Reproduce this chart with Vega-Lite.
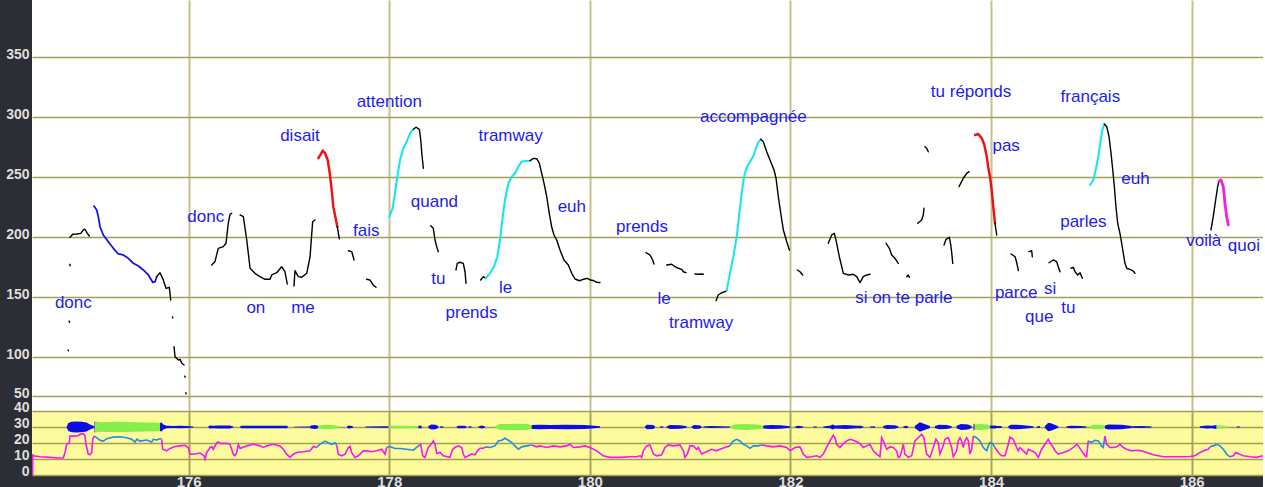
{
  "$schema": "https://vega.github.io/schema/vega-lite/v6.json",
  "description": "Prosodic pitch contour (Hz) with word labels, and intensity / waveform strip below.",
  "background": "#2b2e35",
  "padding": {"left": 0, "top": 0, "right": 0, "bottom": 0},
  "spacing": 0,
  "bounds": "flush",
  "config": {
    "view": {"stroke": null},
    "axis": {
      "labelFont": "Liberation Sans Narrow, Liberation Sans",
      "labelFontWeight": "bold",
      "labelFontSize": 14,
      "labelColor": "#dedede",
      "domain": false,
      "ticks": false,
      "title": null,
      "gridColor": "#a39f58",
      "gridWidth": 1.5,
      "gridOpacity": 1,
      "labelOverlap": false,
      "labelFlush": false
    }
  },
  "resolve": {"scale": {"color": "independent", "strokeWidth": "independent", "y": "independent"}},
  "datasets": {
    "pitch": [
      {"s": "A", "k": "neutral", "t": 174.817, "f": 200.0},
      {"s": "A", "k": "neutral", "t": 174.844, "f": 202.5},
      {"s": "A", "k": "neutral", "t": 174.884, "f": 202.8},
      {"s": "A", "k": "neutral", "t": 174.924, "f": 203.3},
      {"s": "A", "k": "neutral", "t": 174.950, "f": 206.1},
      {"s": "A", "k": "neutral", "t": 174.966, "f": 206.7},
      {"s": "A", "k": "neutral", "t": 174.989, "f": 203.3},
      {"s": "A", "k": "neutral", "t": 175.009, "f": 201.1},
      {"s": "d1", "k": "neutral", "t": 174.815, "f": 177.5},
      {"s": "d1", "k": "neutral", "t": 174.819, "f": 176.3},
      {"s": "d2", "k": "neutral", "t": 174.808, "f": 130.2},
      {"s": "d2", "k": "neutral", "t": 174.812, "f": 129.2},
      {"s": "d3", "k": "neutral", "t": 174.798, "f": 106.1},
      {"s": "d3", "k": "neutral", "t": 174.802, "f": 105.5},
      {"s": "d4", "k": "neutral", "t": 175.838, "f": 133.6},
      {"s": "d4", "k": "neutral", "t": 175.842, "f": 132.8},
      {"s": "d5", "k": "neutral", "t": 175.961, "f": 84.2},
      {"s": "d5", "k": "neutral", "t": 175.965, "f": 83.4},
      {"s": "d6", "k": "neutral", "t": 175.971, "f": 70.4},
      {"s": "d6", "k": "neutral", "t": 175.975, "f": 69.6},
      {"s": "B", "k": "descent", "t": 175.056, "f": 226.1},
      {"s": "B", "k": "descent", "t": 175.083, "f": 222.8},
      {"s": "B", "k": "descent", "t": 175.099, "f": 217.2},
      {"s": "B", "k": "descent", "t": 175.116, "f": 208.8},
      {"s": "B", "k": "descent", "t": 175.149, "f": 201.9},
      {"s": "B", "k": "descent", "t": 175.199, "f": 196.3},
      {"s": "B", "k": "descent", "t": 175.249, "f": 190.8},
      {"s": "B", "k": "descent", "t": 175.298, "f": 186.1},
      {"s": "B", "k": "descent", "t": 175.348, "f": 185.3},
      {"s": "B", "k": "descent", "t": 175.398, "f": 182.5},
      {"s": "B", "k": "descent", "t": 175.448, "f": 178.3},
      {"s": "B", "k": "descent", "t": 175.498, "f": 176.1},
      {"s": "B", "k": "descent", "t": 175.548, "f": 172.8},
      {"s": "B", "k": "descent", "t": 175.598, "f": 168.6},
      {"s": "B", "k": "descent", "t": 175.641, "f": 162.5},
      {"s": "B", "k": "descent", "t": 175.665, "f": 163.0},
      {"s": "B", "k": "descent", "t": 175.681, "f": 167.2},
      {"s": "C", "k": "neutral", "t": 175.681, "f": 167.2},
      {"s": "C", "k": "neutral", "t": 175.714, "f": 170.5},
      {"s": "C", "k": "neutral", "t": 175.741, "f": 165.8},
      {"s": "C", "k": "neutral", "t": 175.774, "f": 157.5},
      {"s": "C", "k": "neutral", "t": 175.807, "f": 158.3},
      {"s": "C", "k": "neutral", "t": 175.821, "f": 147.8},
      {"s": "D", "k": "neutral", "t": 175.854, "f": 108.8},
      {"s": "D", "k": "neutral", "t": 175.864, "f": 100.5},
      {"s": "D", "k": "neutral", "t": 175.897, "f": 97.75},
      {"s": "D", "k": "neutral", "t": 175.914, "f": 98.3},
      {"s": "D", "k": "neutral", "t": 175.931, "f": 95.0},
      {"s": "D", "k": "neutral", "t": 175.954, "f": 93.6},
      {"s": "E1", "k": "neutral", "t": 176.229, "f": 176.9},
      {"s": "E1", "k": "neutral", "t": 176.262, "f": 179.7},
      {"s": "E1", "k": "neutral", "t": 176.295, "f": 190.8},
      {"s": "E1", "k": "neutral", "t": 176.345, "f": 192.2},
      {"s": "E1", "k": "neutral", "t": 176.372, "f": 195.0},
      {"s": "E1", "k": "neutral", "t": 176.395, "f": 211.7},
      {"s": "E1", "k": "neutral", "t": 176.412, "f": 219.2},
      {"s": "E1", "k": "neutral", "t": 176.429, "f": 220.0},
      {"s": "E2", "k": "neutral", "t": 176.512, "f": 218.6},
      {"s": "E2", "k": "neutral", "t": 176.545, "f": 217.2},
      {"s": "E2", "k": "neutral", "t": 176.579, "f": 197.75},
      {"s": "E2", "k": "neutral", "t": 176.612, "f": 174.2},
      {"s": "E2", "k": "neutral", "t": 176.661, "f": 170.0},
      {"s": "E2", "k": "neutral", "t": 176.711, "f": 167.2},
      {"s": "E2", "k": "neutral", "t": 176.761, "f": 165.0},
      {"s": "E2", "k": "neutral", "t": 176.811, "f": 165.0},
      {"s": "E2", "k": "neutral", "t": 176.828, "f": 168.6},
      {"s": "E2", "k": "neutral", "t": 176.878, "f": 170.5},
      {"s": "E2", "k": "neutral", "t": 176.927, "f": 175.5},
      {"s": "E2", "k": "neutral", "t": 176.960, "f": 171.3},
      {"s": "E2", "k": "neutral", "t": 176.983, "f": 161.1},
      {"s": "F", "k": "neutral", "t": 177.050, "f": 159.4},
      {"s": "F", "k": "neutral", "t": 177.060, "f": 172.2},
      {"s": "F", "k": "neutral", "t": 177.093, "f": 167.2},
      {"s": "F", "k": "neutral", "t": 177.127, "f": 166.7},
      {"s": "F", "k": "neutral", "t": 177.177, "f": 170.0},
      {"s": "F", "k": "neutral", "t": 177.210, "f": 183.8},
      {"s": "F", "k": "neutral", "t": 177.236, "f": 213.0},
      {"s": "F", "k": "neutral", "t": 177.259, "f": 214.4},
      {"s": "G1", "k": "fall", "t": 177.293, "f": 265.9},
      {"s": "G1", "k": "fall", "t": 177.317, "f": 269.4},
      {"s": "G1", "k": "fall", "t": 177.337, "f": 272.2},
      {"s": "G1", "k": "fall", "t": 177.360, "f": 270.0},
      {"s": "G1", "k": "fall", "t": 177.386, "f": 264.4},
      {"s": "G1", "k": "fall", "t": 177.409, "f": 251.9},
      {"s": "G1", "k": "fall", "t": 177.426, "f": 239.4},
      {"s": "G1", "k": "fall", "t": 177.442, "f": 225.5},
      {"s": "G1", "k": "fall", "t": 177.469, "f": 214.4},
      {"s": "G1", "k": "fall", "t": 177.482, "f": 208.8},
      {"s": "G2", "k": "neutral", "t": 177.482, "f": 208.8},
      {"s": "G2", "k": "neutral", "t": 177.502, "f": 198.75},
      {"s": "H0a", "k": "neutral", "t": 177.592, "f": 188.8},
      {"s": "H0a", "k": "neutral", "t": 177.626, "f": 188.0},
      {"s": "H0a", "k": "neutral", "t": 177.649, "f": 181.1},
      {"s": "H0b", "k": "neutral", "t": 177.775, "f": 165.0},
      {"s": "H0b", "k": "neutral", "t": 177.808, "f": 164.4},
      {"s": "H0b", "k": "neutral", "t": 177.841, "f": 160.25},
      {"s": "H0b", "k": "neutral", "t": 177.868, "f": 158.3},
      {"s": "H1", "k": "rise", "t": 178.000, "f": 217.2},
      {"s": "H1", "k": "rise", "t": 178.034, "f": 224.2},
      {"s": "H1", "k": "rise", "t": 178.057, "f": 236.7},
      {"s": "H1", "k": "rise", "t": 178.080, "f": 250.5},
      {"s": "H1", "k": "rise", "t": 178.107, "f": 264.4},
      {"s": "H1", "k": "rise", "t": 178.140, "f": 274.2},
      {"s": "H1", "k": "rise", "t": 178.174, "f": 279.7},
      {"s": "H1", "k": "rise", "t": 178.207, "f": 286.7},
      {"s": "H1", "k": "rise", "t": 178.240, "f": 290.0},
      {"s": "H2", "k": "neutral", "t": 178.240, "f": 290.0},
      {"s": "H2", "k": "neutral", "t": 178.267, "f": 291.7},
      {"s": "H2", "k": "neutral", "t": 178.300, "f": 290.0},
      {"s": "H2", "k": "neutral", "t": 178.314, "f": 281.1},
      {"s": "H2", "k": "neutral", "t": 178.324, "f": 270.0},
      {"s": "H2", "k": "neutral", "t": 178.340, "f": 257.5},
      {"s": "I", "k": "neutral", "t": 178.413, "f": 209.7},
      {"s": "I", "k": "neutral", "t": 178.439, "f": 207.5},
      {"s": "I", "k": "neutral", "t": 178.456, "f": 197.75},
      {"s": "I", "k": "neutral", "t": 178.473, "f": 192.2},
      {"s": "I", "k": "neutral", "t": 178.489, "f": 188.0},
      {"s": "J", "k": "neutral", "t": 178.665, "f": 172.75},
      {"s": "J", "k": "neutral", "t": 178.678, "f": 178.3},
      {"s": "J", "k": "neutral", "t": 178.705, "f": 179.2},
      {"s": "J", "k": "neutral", "t": 178.738, "f": 178.3},
      {"s": "J", "k": "neutral", "t": 178.755, "f": 171.3},
      {"s": "J", "k": "neutral", "t": 178.765, "f": 161.7},
      {"s": "K1", "k": "neutral", "t": 178.911, "f": 164.4},
      {"s": "K1", "k": "neutral", "t": 178.938, "f": 167.2},
      {"s": "K1", "k": "neutral", "t": 178.961, "f": 165.8},
      {"s": "K2", "k": "rise", "t": 178.961, "f": 165.8},
      {"s": "K2", "k": "rise", "t": 179.004, "f": 170.0},
      {"s": "K2", "k": "rise", "t": 179.044, "f": 175.5},
      {"s": "K2", "k": "rise", "t": 179.077, "f": 183.8},
      {"s": "K2", "k": "rise", "t": 179.104, "f": 197.75},
      {"s": "K2", "k": "rise", "t": 179.127, "f": 214.4},
      {"s": "K2", "k": "rise", "t": 179.154, "f": 231.1},
      {"s": "K2", "k": "rise", "t": 179.187, "f": 245.0},
      {"s": "K2", "k": "rise", "t": 179.221, "f": 250.5},
      {"s": "K2", "k": "rise", "t": 179.254, "f": 253.3},
      {"s": "K2", "k": "rise", "t": 179.287, "f": 258.8},
      {"s": "K2", "k": "rise", "t": 179.320, "f": 263.0},
      {"s": "K2", "k": "rise", "t": 179.353, "f": 263.6},
      {"s": "K2", "k": "rise", "t": 179.403, "f": 263.8},
      {"s": "K3", "k": "neutral", "t": 179.403, "f": 263.8},
      {"s": "K3", "k": "neutral", "t": 179.436, "f": 265.8},
      {"s": "K3", "k": "neutral", "t": 179.470, "f": 265.5},
      {"s": "K3", "k": "neutral", "t": 179.496, "f": 261.7},
      {"s": "K3", "k": "neutral", "t": 179.520, "f": 253.3},
      {"s": "K3", "k": "neutral", "t": 179.543, "f": 245.0},
      {"s": "K3", "k": "neutral", "t": 179.570, "f": 233.8},
      {"s": "K3", "k": "neutral", "t": 179.595, "f": 220.0},
      {"s": "K3", "k": "neutral", "t": 179.619, "f": 208.8},
      {"s": "K3", "k": "neutral", "t": 179.642, "f": 201.9},
      {"s": "K3", "k": "neutral", "t": 179.669, "f": 197.75},
      {"s": "K3", "k": "neutral", "t": 179.702, "f": 189.4},
      {"s": "K3", "k": "neutral", "t": 179.742, "f": 181.1},
      {"s": "K3", "k": "neutral", "t": 179.785, "f": 176.9},
      {"s": "K3", "k": "neutral", "t": 179.819, "f": 170.0},
      {"s": "K3", "k": "neutral", "t": 179.852, "f": 165.25},
      {"s": "K3", "k": "neutral", "t": 179.895, "f": 163.8},
      {"s": "K3", "k": "neutral", "t": 179.935, "f": 165.0},
      {"s": "K3", "k": "neutral", "t": 179.974, "f": 165.8},
      {"s": "K3", "k": "neutral", "t": 180.008, "f": 164.4},
      {"s": "K3", "k": "neutral", "t": 180.041, "f": 163.8},
      {"s": "K3", "k": "neutral", "t": 180.068, "f": 162.5},
      {"s": "K3", "k": "neutral", "t": 180.101, "f": 162.2},
      {"s": "L", "k": "neutral", "t": 180.560, "f": 187.2},
      {"s": "L", "k": "neutral", "t": 180.600, "f": 185.25},
      {"s": "L", "k": "neutral", "t": 180.626, "f": 181.1},
      {"s": "L", "k": "neutral", "t": 180.639, "f": 177.75},
      {"s": "M", "k": "neutral", "t": 180.766, "f": 176.9},
      {"s": "M", "k": "neutral", "t": 180.816, "f": 177.5},
      {"s": "M", "k": "neutral", "t": 180.849, "f": 175.5},
      {"s": "M", "k": "neutral", "t": 180.882, "f": 174.2},
      {"s": "M", "k": "neutral", "t": 180.916, "f": 173.3},
      {"s": "M", "k": "neutral", "t": 180.932, "f": 171.3},
      {"s": "M", "k": "neutral", "t": 180.958, "f": 170.5},
      {"s": "N", "k": "neutral", "t": 181.048, "f": 169.4},
      {"s": "N", "k": "neutral", "t": 181.081, "f": 169.2},
      {"s": "N", "k": "neutral", "t": 181.115, "f": 169.4},
      {"s": "N", "k": "neutral", "t": 181.131, "f": 169.2},
      {"s": "O1", "k": "neutral", "t": 181.258, "f": 147.2},
      {"s": "O1", "k": "neutral", "t": 181.280, "f": 151.9},
      {"s": "O1", "k": "neutral", "t": 181.314, "f": 153.8},
      {"s": "O1", "k": "neutral", "t": 181.347, "f": 154.7},
      {"s": "O1", "k": "neutral", "t": 181.364, "f": 155.7},
      {"s": "O2", "k": "rise", "t": 181.364, "f": 155.7},
      {"s": "O2", "k": "rise", "t": 181.397, "f": 170.0},
      {"s": "O2", "k": "rise", "t": 181.430, "f": 183.8},
      {"s": "O2", "k": "rise", "t": 181.464, "f": 200.5},
      {"s": "O2", "k": "rise", "t": 181.490, "f": 220.0},
      {"s": "O2", "k": "rise", "t": 181.514, "f": 236.7},
      {"s": "O2", "k": "rise", "t": 181.537, "f": 250.5},
      {"s": "O2", "k": "rise", "t": 181.564, "f": 258.3},
      {"s": "O2", "k": "rise", "t": 181.597, "f": 263.0},
      {"s": "O2", "k": "rise", "t": 181.630, "f": 267.75},
      {"s": "O2", "k": "rise", "t": 181.656, "f": 274.2},
      {"s": "O2", "k": "rise", "t": 181.679, "f": 278.8},
      {"s": "O2", "k": "rise", "t": 181.703, "f": 281.7},
      {"s": "O3", "k": "neutral", "t": 181.703, "f": 281.7},
      {"s": "O3", "k": "neutral", "t": 181.729, "f": 279.7},
      {"s": "O3", "k": "neutral", "t": 181.763, "f": 271.3},
      {"s": "O3", "k": "neutral", "t": 181.803, "f": 263.0},
      {"s": "O3", "k": "neutral", "t": 181.836, "f": 256.1},
      {"s": "O3", "k": "neutral", "t": 181.856, "f": 249.2},
      {"s": "O3", "k": "neutral", "t": 181.879, "f": 233.8},
      {"s": "O3", "k": "neutral", "t": 181.903, "f": 220.0},
      {"s": "O3", "k": "neutral", "t": 181.929, "f": 206.1},
      {"s": "O3", "k": "neutral", "t": 181.963, "f": 196.3},
      {"s": "O3", "k": "neutral", "t": 181.989, "f": 189.4},
      {"s": "P", "k": "neutral", "t": 182.068, "f": 172.75},
      {"s": "P", "k": "neutral", "t": 182.095, "f": 171.3},
      {"s": "P", "k": "neutral", "t": 182.122, "f": 168.6},
      {"s": "Q", "k": "neutral", "t": 182.377, "f": 195.0},
      {"s": "Q", "k": "neutral", "t": 182.411, "f": 201.9},
      {"s": "Q", "k": "neutral", "t": 182.437, "f": 203.3},
      {"s": "Q", "k": "neutral", "t": 182.461, "f": 195.0},
      {"s": "Q", "k": "neutral", "t": 182.487, "f": 183.8},
      {"s": "Q", "k": "neutral", "t": 182.511, "f": 175.5},
      {"s": "Q", "k": "neutral", "t": 182.527, "f": 170.0},
      {"s": "Q", "k": "neutral", "t": 182.577, "f": 168.6},
      {"s": "Q", "k": "neutral", "t": 182.627, "f": 169.2},
      {"s": "Q", "k": "neutral", "t": 182.660, "f": 167.2},
      {"s": "Q", "k": "neutral", "t": 182.693, "f": 162.2},
      {"s": "Q", "k": "neutral", "t": 182.726, "f": 167.2},
      {"s": "Q", "k": "neutral", "t": 182.760, "f": 168.6},
      {"s": "Q", "k": "neutral", "t": 182.793, "f": 169.2},
      {"s": "R", "k": "neutral", "t": 182.953, "f": 195.0},
      {"s": "R", "k": "neutral", "t": 182.986, "f": 190.8},
      {"s": "R", "k": "neutral", "t": 183.009, "f": 185.25},
      {"s": "R", "k": "neutral", "t": 183.042, "f": 182.5},
      {"s": "R", "k": "neutral", "t": 183.075, "f": 178.3},
      {"s": "S", "k": "neutral", "t": 183.159, "f": 167.2},
      {"s": "S", "k": "neutral", "t": 183.175, "f": 168.6},
      {"s": "S", "k": "neutral", "t": 183.185, "f": 166.7},
      {"s": "T", "k": "neutral", "t": 183.268, "f": 211.7},
      {"s": "T", "k": "neutral", "t": 183.308, "f": 214.4},
      {"s": "T", "k": "neutral", "t": 183.324, "f": 218.6},
      {"s": "T", "k": "neutral", "t": 183.331, "f": 224.2},
      {"s": "U", "k": "neutral", "t": 183.341, "f": 275.5},
      {"s": "U", "k": "neutral", "t": 183.358, "f": 274.2},
      {"s": "U", "k": "neutral", "t": 183.374, "f": 271.3},
      {"s": "V", "k": "neutral", "t": 183.531, "f": 193.6},
      {"s": "V", "k": "neutral", "t": 183.551, "f": 198.3},
      {"s": "V", "k": "neutral", "t": 183.584, "f": 200.0},
      {"s": "V", "k": "neutral", "t": 183.598, "f": 193.6},
      {"s": "V", "k": "neutral", "t": 183.608, "f": 186.7},
      {"s": "V", "k": "neutral", "t": 183.618, "f": 178.3},
      {"s": "W", "k": "neutral", "t": 183.680, "f": 242.2},
      {"s": "W", "k": "neutral", "t": 183.723, "f": 249.2},
      {"s": "W", "k": "neutral", "t": 183.757, "f": 253.3},
      {"s": "W", "k": "neutral", "t": 183.780, "f": 254.7},
      {"s": "X1", "k": "fall", "t": 183.840, "f": 285.25},
      {"s": "X1", "k": "fall", "t": 183.873, "f": 286.1},
      {"s": "X1", "k": "fall", "t": 183.907, "f": 282.5},
      {"s": "X1", "k": "fall", "t": 183.933, "f": 276.9},
      {"s": "X1", "k": "fall", "t": 183.957, "f": 267.2},
      {"s": "X1", "k": "fall", "t": 183.973, "f": 257.5},
      {"s": "X1", "k": "fall", "t": 183.989, "f": 250.5},
      {"s": "X1", "k": "fall", "t": 184.006, "f": 239.4},
      {"s": "X1", "k": "fall", "t": 184.022, "f": 225.5},
      {"s": "X1", "k": "fall", "t": 184.039, "f": 211.7},
      {"s": "X2", "k": "neutral", "t": 184.039, "f": 211.7},
      {"s": "X2", "k": "neutral", "t": 184.056, "f": 201.9},
      {"s": "Y", "k": "neutral", "t": 184.199, "f": 186.1},
      {"s": "Y", "k": "neutral", "t": 184.239, "f": 183.8},
      {"s": "Y", "k": "neutral", "t": 184.256, "f": 178.8},
      {"s": "Y", "k": "neutral", "t": 184.272, "f": 172.2},
      {"s": "Z", "k": "neutral", "t": 184.378, "f": 188.0},
      {"s": "Z", "k": "neutral", "t": 184.405, "f": 188.8},
      {"s": "Z", "k": "neutral", "t": 184.411, "f": 183.8},
      {"s": "AA", "k": "neutral", "t": 184.577, "f": 178.8},
      {"s": "AA", "k": "neutral", "t": 184.620, "f": 181.1},
      {"s": "AA", "k": "neutral", "t": 184.654, "f": 179.7},
      {"s": "AA", "k": "neutral", "t": 184.670, "f": 175.5},
      {"s": "AA", "k": "neutral", "t": 184.687, "f": 171.3},
      {"s": "AB", "k": "neutral", "t": 184.797, "f": 174.2},
      {"s": "AB", "k": "neutral", "t": 184.820, "f": 175.0},
      {"s": "AB", "k": "neutral", "t": 184.837, "f": 171.3},
      {"s": "AB", "k": "neutral", "t": 184.864, "f": 168.6},
      {"s": "AB", "k": "neutral", "t": 184.887, "f": 170.5},
      {"s": "AB", "k": "neutral", "t": 184.910, "f": 165.8},
      {"s": "AC1", "k": "rise", "t": 184.986, "f": 243.6},
      {"s": "AC1", "k": "rise", "t": 185.019, "f": 247.75},
      {"s": "AC1", "k": "rise", "t": 185.043, "f": 256.1},
      {"s": "AC1", "k": "rise", "t": 185.069, "f": 267.2},
      {"s": "AC1", "k": "rise", "t": 185.096, "f": 282.5},
      {"s": "AC1", "k": "rise", "t": 185.109, "f": 289.4},
      {"s": "AC1", "k": "rise", "t": 185.129, "f": 294.4},
      {"s": "AC2", "k": "neutral", "t": 185.129, "f": 294.4},
      {"s": "AC2", "k": "neutral", "t": 185.153, "f": 292.2},
      {"s": "AC2", "k": "neutral", "t": 185.176, "f": 283.8},
      {"s": "AC2", "k": "neutral", "t": 185.196, "f": 270.0},
      {"s": "AC2", "k": "neutral", "t": 185.213, "f": 256.1},
      {"s": "AC2", "k": "neutral", "t": 185.229, "f": 242.2},
      {"s": "AC2", "k": "neutral", "t": 185.245, "f": 225.5},
      {"s": "AC2", "k": "neutral", "t": 185.262, "f": 211.7},
      {"s": "AC2", "k": "neutral", "t": 185.285, "f": 203.3},
      {"s": "AC2", "k": "neutral", "t": 185.302, "f": 195.0},
      {"s": "AC2", "k": "neutral", "t": 185.318, "f": 186.7},
      {"s": "AC2", "k": "neutral", "t": 185.335, "f": 178.3},
      {"s": "AC2", "k": "neutral", "t": 185.352, "f": 174.2},
      {"s": "AC2", "k": "neutral", "t": 185.385, "f": 173.3},
      {"s": "AC2", "k": "neutral", "t": 185.418, "f": 171.9},
      {"s": "AC2", "k": "neutral", "t": 185.435, "f": 170.0},
      {"s": "AD1", "k": "neutral", "t": 186.192, "f": 206.1},
      {"s": "AD1", "k": "neutral", "t": 186.215, "f": 217.2},
      {"s": "AD1", "k": "neutral", "t": 186.239, "f": 231.1},
      {"s": "AD1", "k": "neutral", "t": 186.259, "f": 242.2},
      {"s": "AD1", "k": "neutral", "t": 186.272, "f": 246.9},
      {"s": "AD2", "k": "final", "t": 186.272, "f": 246.9},
      {"s": "AD2", "k": "final", "t": 186.292, "f": 247.75},
      {"s": "AD2", "k": "final", "t": 186.315, "f": 242.2},
      {"s": "AD2", "k": "final", "t": 186.332, "f": 228.3},
      {"s": "AD2", "k": "final", "t": 186.349, "f": 217.2},
      {"s": "AD2", "k": "final", "t": 186.365, "f": 210.25}
    ],
    "words": [
      {"w": "donc", "t": 174.85, "f": 145.0},
      {"w": "donc", "t": 176.17, "f": 217.2},
      {"w": "on", "t": 176.67, "f": 140.8},
      {"w": "me", "t": 177.14, "f": 140.8},
      {"w": "disait", "t": 177.11, "f": 284.4},
      {"w": "fais", "t": 177.77, "f": 205.5},
      {"w": "attention", "t": 178.00, "f": 312.75},
      {"w": "quand", "t": 178.45, "f": 229.4},
      {"w": "tu", "t": 178.49, "f": 165.0},
      {"w": "prends", "t": 178.82, "f": 136.7},
      {"w": "le", "t": 179.16, "f": 157.5},
      {"w": "tramway", "t": 179.21, "f": 284.4},
      {"w": "euh", "t": 179.82, "f": 225.0},
      {"w": "prends", "t": 180.52, "f": 208.8},
      {"w": "le", "t": 180.74, "f": 148.6},
      {"w": "tramway", "t": 181.11, "f": 128.8},
      {"w": "accompagnée", "t": 181.63, "f": 300.5},
      {"w": "si on te parle", "t": 183.13, "f": 149.2},
      {"w": "tu réponds", "t": 183.80, "f": 320.7},
      {"w": "pas", "t": 184.15, "f": 276.3},
      {"w": "parce", "t": 184.25, "f": 153.3},
      {"w": "que", "t": 184.48, "f": 133.3},
      {"w": "si", "t": 184.59, "f": 156.7},
      {"w": "tu", "t": 184.77, "f": 140.8},
      {"w": "parles", "t": 184.92, "f": 213.0},
      {"w": "français", "t": 184.99, "f": 317.2},
      {"w": "euh", "t": 185.44, "f": 248.6},
      {"w": "voilà", "t": 186.12, "f": 196.9},
      {"w": "quoi", "t": 186.52, "f": 193.0}
    ],
    "inten": [
      {"s": "i1", "k": "plain", "t": 174.444, "v": 0.0},
      {"s": "i1", "k": "plain", "t": 174.445, "v": 13.0},
      {"s": "i1", "k": "plain", "t": 174.451, "v": 12.0},
      {"s": "i1", "k": "plain", "t": 174.518, "v": 11.4},
      {"s": "i1", "k": "plain", "t": 174.618, "v": 11.0},
      {"s": "i1", "k": "plain", "t": 174.700, "v": 10.6},
      {"s": "i1", "k": "plain", "t": 174.750, "v": 10.6},
      {"s": "i1", "k": "plain", "t": 174.767, "v": 14.1},
      {"s": "i1", "k": "plain", "t": 174.784, "v": 19.2},
      {"s": "i1", "k": "plain", "t": 174.810, "v": 20.2},
      {"s": "i1", "k": "plain", "t": 174.817, "v": 24.3},
      {"s": "i1", "k": "plain", "t": 174.867, "v": 24.3},
      {"s": "i1", "k": "plain", "t": 174.900, "v": 24.7},
      {"s": "i1", "k": "plain", "t": 174.917, "v": 25.4},
      {"s": "i1", "k": "plain", "t": 174.950, "v": 25.8},
      {"s": "i1", "k": "plain", "t": 174.966, "v": 24.7},
      {"s": "i1", "k": "plain", "t": 174.976, "v": 19.2},
      {"s": "i1", "k": "plain", "t": 174.999, "v": 13.0},
      {"s": "i1", "k": "plain", "t": 175.016, "v": 12.6},
      {"s": "i1", "k": "plain", "t": 175.033, "v": 14.1},
      {"s": "i1", "k": "plain", "t": 175.043, "v": 22.3},
      {"s": "i1", "k": "plain", "t": 175.059, "v": 24.3},
      {"s": "i2", "k": "nucleus", "t": 175.059, "v": 24.3},
      {"s": "i2", "k": "nucleus", "t": 175.083, "v": 23.3},
      {"s": "i2", "k": "nucleus", "t": 175.116, "v": 21.7},
      {"s": "i2", "k": "nucleus", "t": 175.149, "v": 21.2},
      {"s": "i2", "k": "nucleus", "t": 175.183, "v": 22.7},
      {"s": "i2", "k": "nucleus", "t": 175.249, "v": 23.7},
      {"s": "i2", "k": "nucleus", "t": 175.315, "v": 23.9},
      {"s": "i2", "k": "nucleus", "t": 175.382, "v": 23.3},
      {"s": "i2", "k": "nucleus", "t": 175.432, "v": 22.3},
      {"s": "i2", "k": "nucleus", "t": 175.465, "v": 20.6},
      {"s": "i2", "k": "nucleus", "t": 175.482, "v": 22.3},
      {"s": "i2", "k": "nucleus", "t": 175.515, "v": 21.2},
      {"s": "i2", "k": "nucleus", "t": 175.582, "v": 21.9},
      {"s": "i2", "k": "nucleus", "t": 175.631, "v": 20.6},
      {"s": "i2", "k": "nucleus", "t": 175.647, "v": 22.3},
      {"s": "i2", "k": "nucleus", "t": 175.681, "v": 21.9},
      {"s": "i2", "k": "nucleus", "t": 175.714, "v": 22.7},
      {"s": "i2", "k": "nucleus", "t": 175.731, "v": 22.7},
      {"s": "i3", "k": "plain", "t": 175.731, "v": 22.3},
      {"s": "i3", "k": "plain", "t": 175.741, "v": 16.1},
      {"s": "i3", "k": "plain", "t": 175.781, "v": 15.1},
      {"s": "i3", "k": "plain", "t": 175.814, "v": 16.6},
      {"s": "i3", "k": "plain", "t": 175.864, "v": 17.8},
      {"s": "i3", "k": "plain", "t": 175.914, "v": 18.2},
      {"s": "i3", "k": "plain", "t": 175.963, "v": 18.6},
      {"s": "i3", "k": "plain", "t": 175.996, "v": 17.2},
      {"s": "i3", "k": "plain", "t": 176.013, "v": 13.0},
      {"s": "i3", "k": "plain", "t": 176.046, "v": 13.0},
      {"s": "i3", "k": "plain", "t": 176.113, "v": 13.7},
      {"s": "i3", "k": "plain", "t": 176.153, "v": 12.0},
      {"s": "i3", "k": "plain", "t": 176.163, "v": 10.0},
      {"s": "i3", "k": "plain", "t": 176.180, "v": 14.1},
      {"s": "i3", "k": "plain", "t": 176.213, "v": 17.2},
      {"s": "i3", "k": "plain", "t": 176.230, "v": 17.8},
      {"s": "i3", "k": "plain", "t": 176.246, "v": 16.1},
      {"s": "i3", "k": "plain", "t": 176.280, "v": 20.2},
      {"s": "i3", "k": "plain", "t": 176.295, "v": 20.6},
      {"s": "i3", "k": "plain", "t": 176.329, "v": 19.6},
      {"s": "i3", "k": "plain", "t": 176.379, "v": 19.8},
      {"s": "i3", "k": "plain", "t": 176.412, "v": 19.2},
      {"s": "i3", "k": "plain", "t": 176.445, "v": 13.0},
      {"s": "i3", "k": "plain", "t": 176.462, "v": 12.0},
      {"s": "i3", "k": "plain", "t": 176.479, "v": 14.1},
      {"s": "i3", "k": "plain", "t": 176.495, "v": 19.2},
      {"s": "i3", "k": "plain", "t": 176.512, "v": 16.6},
      {"s": "i3", "k": "plain", "t": 176.579, "v": 18.2},
      {"s": "i3", "k": "plain", "t": 176.644, "v": 19.2},
      {"s": "i3", "k": "plain", "t": 176.711, "v": 18.2},
      {"s": "i3", "k": "plain", "t": 176.744, "v": 17.2},
      {"s": "i3", "k": "plain", "t": 176.778, "v": 18.2},
      {"s": "i3", "k": "plain", "t": 176.844, "v": 19.2},
      {"s": "i3", "k": "plain", "t": 176.911, "v": 18.2},
      {"s": "i3", "k": "plain", "t": 176.944, "v": 16.1},
      {"s": "i3", "k": "plain", "t": 176.977, "v": 13.0},
      {"s": "i3", "k": "plain", "t": 177.010, "v": 11.0},
      {"s": "i3", "k": "plain", "t": 177.043, "v": 13.0},
      {"s": "i3", "k": "plain", "t": 177.077, "v": 14.1},
      {"s": "i3", "k": "plain", "t": 177.143, "v": 14.5},
      {"s": "i3", "k": "plain", "t": 177.210, "v": 15.1},
      {"s": "i3", "k": "plain", "t": 177.243, "v": 17.8},
      {"s": "i3", "k": "plain", "t": 177.276, "v": 17.2},
      {"s": "i4", "k": "nucleus", "t": 177.276, "v": 17.2},
      {"s": "i4", "k": "nucleus", "t": 177.309, "v": 19.2},
      {"s": "i4", "k": "nucleus", "t": 177.359, "v": 21.2},
      {"s": "i4", "k": "nucleus", "t": 177.392, "v": 20.2},
      {"s": "i4", "k": "nucleus", "t": 177.426, "v": 19.2},
      {"s": "i4", "k": "nucleus", "t": 177.459, "v": 20.2},
      {"s": "i4", "k": "nucleus", "t": 177.476, "v": 18.6},
      {"s": "i5", "k": "plain", "t": 177.476, "v": 18.6},
      {"s": "i5", "k": "plain", "t": 177.492, "v": 13.0},
      {"s": "i5", "k": "plain", "t": 177.526, "v": 12.0},
      {"s": "i5", "k": "plain", "t": 177.559, "v": 13.0},
      {"s": "i5", "k": "plain", "t": 177.592, "v": 17.2},
      {"s": "i5", "k": "plain", "t": 177.609, "v": 17.8},
      {"s": "i5", "k": "plain", "t": 177.625, "v": 14.1},
      {"s": "i5", "k": "plain", "t": 177.658, "v": 11.0},
      {"s": "i5", "k": "plain", "t": 177.691, "v": 12.0},
      {"s": "i5", "k": "plain", "t": 177.741, "v": 15.1},
      {"s": "i5", "k": "plain", "t": 177.775, "v": 15.1},
      {"s": "i5", "k": "plain", "t": 177.825, "v": 14.5},
      {"s": "i5", "k": "plain", "t": 177.875, "v": 15.1},
      {"s": "i5", "k": "plain", "t": 177.925, "v": 16.1},
      {"s": "i5", "k": "plain", "t": 177.958, "v": 13.0},
      {"s": "i5", "k": "plain", "t": 177.974, "v": 17.2},
      {"s": "i6", "k": "nucleus", "t": 177.974, "v": 17.2},
      {"s": "i6", "k": "nucleus", "t": 178.007, "v": 17.8},
      {"s": "i6", "k": "nucleus", "t": 178.057, "v": 16.6},
      {"s": "i6", "k": "nucleus", "t": 178.107, "v": 16.6},
      {"s": "i6", "k": "nucleus", "t": 178.173, "v": 16.1},
      {"s": "i6", "k": "nucleus", "t": 178.240, "v": 15.5},
      {"s": "i6", "k": "nucleus", "t": 178.290, "v": 18.2},
      {"s": "i7", "k": "plain", "t": 178.290, "v": 18.2},
      {"s": "i7", "k": "plain", "t": 178.313, "v": 19.2},
      {"s": "i7", "k": "plain", "t": 178.333, "v": 12.0},
      {"s": "i7", "k": "plain", "t": 178.356, "v": 11.0},
      {"s": "i7", "k": "plain", "t": 178.389, "v": 17.2},
      {"s": "i7", "k": "plain", "t": 178.423, "v": 19.6},
      {"s": "i7", "k": "plain", "t": 178.439, "v": 21.3},
      {"s": "i7", "k": "plain", "t": 178.456, "v": 19.2},
      {"s": "i7", "k": "plain", "t": 178.473, "v": 13.5},
      {"s": "i7", "k": "plain", "t": 178.506, "v": 14.1},
      {"s": "i7", "k": "plain", "t": 178.539, "v": 12.0},
      {"s": "i7", "k": "plain", "t": 178.605, "v": 11.0},
      {"s": "i7", "k": "plain", "t": 178.632, "v": 16.1},
      {"s": "i7", "k": "plain", "t": 178.655, "v": 17.2},
      {"s": "i7", "k": "plain", "t": 178.689, "v": 18.2},
      {"s": "i7", "k": "plain", "t": 178.722, "v": 17.2},
      {"s": "i7", "k": "plain", "t": 178.738, "v": 13.1},
      {"s": "i7", "k": "plain", "t": 178.755, "v": 11.0},
      {"s": "i7", "k": "plain", "t": 178.788, "v": 12.0},
      {"s": "i7", "k": "plain", "t": 178.821, "v": 13.1},
      {"s": "i7", "k": "plain", "t": 178.855, "v": 12.6},
      {"s": "i7", "k": "plain", "t": 178.878, "v": 15.1},
      {"s": "i7", "k": "plain", "t": 178.905, "v": 16.7},
      {"s": "i7", "k": "plain", "t": 178.938, "v": 16.7},
      {"s": "i7", "k": "plain", "t": 178.964, "v": 17.6},
      {"s": "i8", "k": "nucleus", "t": 178.964, "v": 17.6},
      {"s": "i8", "k": "nucleus", "t": 179.004, "v": 17.2},
      {"s": "i8", "k": "nucleus", "t": 179.054, "v": 18.2},
      {"s": "i8", "k": "nucleus", "t": 179.087, "v": 21.3},
      {"s": "i8", "k": "nucleus", "t": 179.121, "v": 21.7},
      {"s": "i8", "k": "nucleus", "t": 179.154, "v": 23.0},
      {"s": "i8", "k": "nucleus", "t": 179.187, "v": 21.7},
      {"s": "i8", "k": "nucleus", "t": 179.220, "v": 20.3},
      {"s": "i8", "k": "nucleus", "t": 179.253, "v": 18.2},
      {"s": "i8", "k": "nucleus", "t": 179.287, "v": 16.1},
      {"s": "i8", "k": "nucleus", "t": 179.320, "v": 17.6},
      {"s": "i8", "k": "nucleus", "t": 179.370, "v": 18.2},
      {"s": "i8", "k": "nucleus", "t": 179.420, "v": 18.8},
      {"s": "i9", "k": "plain", "t": 179.420, "v": 18.8},
      {"s": "i9", "k": "plain", "t": 179.469, "v": 17.6},
      {"s": "i9", "k": "plain", "t": 179.503, "v": 18.2},
      {"s": "i9", "k": "plain", "t": 179.569, "v": 17.2},
      {"s": "i9", "k": "plain", "t": 179.636, "v": 18.2},
      {"s": "i9", "k": "plain", "t": 179.702, "v": 17.6},
      {"s": "i9", "k": "plain", "t": 179.769, "v": 18.2},
      {"s": "i9", "k": "plain", "t": 179.802, "v": 19.2},
      {"s": "i9", "k": "plain", "t": 179.835, "v": 17.2},
      {"s": "i9", "k": "plain", "t": 179.901, "v": 17.6},
      {"s": "i9", "k": "plain", "t": 179.951, "v": 18.2},
      {"s": "i9", "k": "plain", "t": 180.001, "v": 17.2},
      {"s": "i9", "k": "plain", "t": 180.068, "v": 15.1},
      {"s": "i9", "k": "plain", "t": 180.134, "v": 12.0},
      {"s": "i9", "k": "plain", "t": 180.200, "v": 11.0},
      {"s": "i9", "k": "plain", "t": 180.300, "v": 11.0},
      {"s": "i9", "k": "plain", "t": 180.400, "v": 11.4},
      {"s": "i9", "k": "plain", "t": 180.466, "v": 11.4},
      {"s": "i9", "k": "plain", "t": 180.500, "v": 12.0},
      {"s": "i9", "k": "plain", "t": 180.516, "v": 11.0},
      {"s": "i9", "k": "plain", "t": 180.533, "v": 15.1},
      {"s": "i9", "k": "plain", "t": 180.566, "v": 18.2},
      {"s": "i9", "k": "plain", "t": 180.599, "v": 18.8},
      {"s": "i9", "k": "plain", "t": 180.633, "v": 13.1},
      {"s": "i9", "k": "plain", "t": 180.666, "v": 12.0},
      {"s": "i9", "k": "plain", "t": 180.716, "v": 12.6},
      {"s": "i9", "k": "plain", "t": 180.749, "v": 17.2},
      {"s": "i9", "k": "plain", "t": 180.782, "v": 18.8},
      {"s": "i9", "k": "plain", "t": 180.832, "v": 18.2},
      {"s": "i9", "k": "plain", "t": 180.898, "v": 18.8},
      {"s": "i9", "k": "plain", "t": 180.932, "v": 15.1},
      {"s": "i9", "k": "plain", "t": 180.948, "v": 11.0},
      {"s": "i9", "k": "plain", "t": 180.971, "v": 13.1},
      {"s": "i9", "k": "plain", "t": 180.998, "v": 18.2},
      {"s": "i9", "k": "plain", "t": 181.031, "v": 18.2},
      {"s": "i9", "k": "plain", "t": 181.064, "v": 16.1},
      {"s": "i9", "k": "plain", "t": 181.081, "v": 17.2},
      {"s": "i9", "k": "plain", "t": 181.114, "v": 13.1},
      {"s": "i9", "k": "plain", "t": 181.147, "v": 14.1},
      {"s": "i9", "k": "plain", "t": 181.214, "v": 16.1},
      {"s": "i9", "k": "plain", "t": 181.264, "v": 15.1},
      {"s": "i9", "k": "plain", "t": 181.297, "v": 16.1},
      {"s": "i9", "k": "plain", "t": 181.347, "v": 17.2},
      {"s": "i9", "k": "plain", "t": 181.397, "v": 18.2},
      {"s": "i10", "k": "nucleus", "t": 181.397, "v": 18.2},
      {"s": "i10", "k": "nucleus", "t": 181.430, "v": 21.3},
      {"s": "i10", "k": "nucleus", "t": 181.463, "v": 22.3},
      {"s": "i10", "k": "nucleus", "t": 181.496, "v": 21.3},
      {"s": "i10", "k": "nucleus", "t": 181.530, "v": 19.2},
      {"s": "i10", "k": "nucleus", "t": 181.563, "v": 18.2},
      {"s": "i10", "k": "nucleus", "t": 181.596, "v": 16.7},
      {"s": "i10", "k": "nucleus", "t": 181.629, "v": 18.2},
      {"s": "i10", "k": "nucleus", "t": 181.679, "v": 18.2},
      {"s": "i10", "k": "nucleus", "t": 181.713, "v": 18.8},
      {"s": "i11", "k": "plain", "t": 181.713, "v": 18.8},
      {"s": "i11", "k": "plain", "t": 181.762, "v": 18.2},
      {"s": "i11", "k": "plain", "t": 181.829, "v": 17.6},
      {"s": "i11", "k": "plain", "t": 181.895, "v": 18.2},
      {"s": "i11", "k": "plain", "t": 181.962, "v": 17.2},
      {"s": "i11", "k": "plain", "t": 181.995, "v": 15.1},
      {"s": "i11", "k": "plain", "t": 182.045, "v": 17.2},
      {"s": "i11", "k": "plain", "t": 182.095, "v": 17.6},
      {"s": "i11", "k": "plain", "t": 182.128, "v": 13.1},
      {"s": "i11", "k": "plain", "t": 182.161, "v": 11.0},
      {"s": "i11", "k": "plain", "t": 182.211, "v": 11.4},
      {"s": "i11", "k": "plain", "t": 182.261, "v": 12.0},
      {"s": "i11", "k": "plain", "t": 182.294, "v": 11.0},
      {"s": "i11", "k": "plain", "t": 182.327, "v": 13.1},
      {"s": "i11", "k": "plain", "t": 182.360, "v": 17.2},
      {"s": "i11", "k": "plain", "t": 182.394, "v": 21.3},
      {"s": "i11", "k": "plain", "t": 182.427, "v": 24.9},
      {"s": "i11", "k": "plain", "t": 182.444, "v": 23.3},
      {"s": "i11", "k": "plain", "t": 182.460, "v": 19.2},
      {"s": "i11", "k": "plain", "t": 182.493, "v": 17.2},
      {"s": "i11", "k": "plain", "t": 182.527, "v": 19.6},
      {"s": "i11", "k": "plain", "t": 182.560, "v": 21.3},
      {"s": "i11", "k": "plain", "t": 182.593, "v": 22.3},
      {"s": "i11", "k": "plain", "t": 182.626, "v": 21.7},
      {"s": "i11", "k": "plain", "t": 182.660, "v": 20.8},
      {"s": "i11", "k": "plain", "t": 182.693, "v": 19.6},
      {"s": "i11", "k": "plain", "t": 182.726, "v": 17.2},
      {"s": "i11", "k": "plain", "t": 182.759, "v": 18.2},
      {"s": "i11", "k": "plain", "t": 182.792, "v": 19.2},
      {"s": "i11", "k": "plain", "t": 182.826, "v": 15.1},
      {"s": "i11", "k": "plain", "t": 182.859, "v": 13.1},
      {"s": "i11", "k": "plain", "t": 182.892, "v": 11.4},
      {"s": "i11", "k": "plain", "t": 182.909, "v": 23.3},
      {"s": "i11", "k": "plain", "t": 182.925, "v": 21.3},
      {"s": "i11", "k": "plain", "t": 182.959, "v": 16.1},
      {"s": "i11", "k": "plain", "t": 182.992, "v": 17.6},
      {"s": "i11", "k": "plain", "t": 183.025, "v": 17.2},
      {"s": "i11", "k": "plain", "t": 183.058, "v": 15.1},
      {"s": "i11", "k": "plain", "t": 183.075, "v": 11.0},
      {"s": "i11", "k": "plain", "t": 183.092, "v": 11.4},
      {"s": "i11", "k": "plain", "t": 183.108, "v": 15.1},
      {"s": "i11", "k": "plain", "t": 183.125, "v": 19.2},
      {"s": "i11", "k": "plain", "t": 183.141, "v": 13.1},
      {"s": "i11", "k": "plain", "t": 183.175, "v": 11.0},
      {"s": "i11", "k": "plain", "t": 183.208, "v": 12.0},
      {"s": "i11", "k": "plain", "t": 183.241, "v": 21.3},
      {"s": "i11", "k": "plain", "t": 183.274, "v": 23.3},
      {"s": "i11", "k": "plain", "t": 183.308, "v": 25.4},
      {"s": "i11", "k": "plain", "t": 183.331, "v": 23.3},
      {"s": "i11", "k": "plain", "t": 183.357, "v": 13.1},
      {"s": "i11", "k": "plain", "t": 183.391, "v": 11.0},
      {"s": "i11", "k": "plain", "t": 183.424, "v": 17.2},
      {"s": "i11", "k": "plain", "t": 183.450, "v": 22.3},
      {"s": "i11", "k": "plain", "t": 183.474, "v": 20.3},
      {"s": "i11", "k": "plain", "t": 183.490, "v": 13.1},
      {"s": "i11", "k": "plain", "t": 183.517, "v": 17.2},
      {"s": "i11", "k": "plain", "t": 183.540, "v": 22.3},
      {"s": "i11", "k": "plain", "t": 183.573, "v": 23.3},
      {"s": "i11", "k": "plain", "t": 183.607, "v": 17.2},
      {"s": "i11", "k": "plain", "t": 183.623, "v": 11.4},
      {"s": "i11", "k": "plain", "t": 183.656, "v": 15.1},
      {"s": "i11", "k": "plain", "t": 183.673, "v": 21.3},
      {"s": "i11", "k": "plain", "t": 183.690, "v": 23.3},
      {"s": "i11", "k": "plain", "t": 183.706, "v": 21.3},
      {"s": "i11", "k": "plain", "t": 183.723, "v": 17.2},
      {"s": "i11", "k": "plain", "t": 183.739, "v": 21.3},
      {"s": "i11", "k": "plain", "t": 183.756, "v": 23.3},
      {"s": "i11", "k": "plain", "t": 183.773, "v": 21.3},
      {"s": "i11", "k": "plain", "t": 183.789, "v": 13.1},
      {"s": "i11", "k": "plain", "t": 183.806, "v": 16.1},
      {"s": "i11", "k": "plain", "t": 183.823, "v": 24.3},
      {"s": "i12", "k": "nucleus", "t": 183.823, "v": 24.3},
      {"s": "i12", "k": "nucleus", "t": 183.856, "v": 23.3},
      {"s": "i12", "k": "nucleus", "t": 183.889, "v": 21.3},
      {"s": "i12", "k": "nucleus", "t": 183.922, "v": 17.2},
      {"s": "i12", "k": "nucleus", "t": 183.956, "v": 15.1},
      {"s": "i12", "k": "nucleus", "t": 183.972, "v": 18.2},
      {"s": "i12", "k": "nucleus", "t": 183.989, "v": 20.3},
      {"s": "i12", "k": "nucleus", "t": 184.015, "v": 19.6},
      {"s": "i12", "k": "nucleus", "t": 184.039, "v": 17.2},
      {"s": "i13", "k": "plain", "t": 184.039, "v": 17.2},
      {"s": "i13", "k": "plain", "t": 184.072, "v": 14.1},
      {"s": "i13", "k": "plain", "t": 184.105, "v": 12.0},
      {"s": "i13", "k": "plain", "t": 184.138, "v": 12.0},
      {"s": "i13", "k": "plain", "t": 184.172, "v": 19.2},
      {"s": "i13", "k": "plain", "t": 184.188, "v": 23.7},
      {"s": "i13", "k": "plain", "t": 184.221, "v": 22.3},
      {"s": "i13", "k": "plain", "t": 184.255, "v": 17.2},
      {"s": "i13", "k": "plain", "t": 184.271, "v": 15.1},
      {"s": "i13", "k": "plain", "t": 184.288, "v": 17.2},
      {"s": "i13", "k": "plain", "t": 184.321, "v": 15.1},
      {"s": "i13", "k": "plain", "t": 184.354, "v": 13.1},
      {"s": "i13", "k": "plain", "t": 184.371, "v": 16.1},
      {"s": "i13", "k": "plain", "t": 184.404, "v": 15.1},
      {"s": "i13", "k": "plain", "t": 184.437, "v": 14.1},
      {"s": "i13", "k": "plain", "t": 184.471, "v": 11.0},
      {"s": "i13", "k": "plain", "t": 184.504, "v": 16.1},
      {"s": "i13", "k": "plain", "t": 184.537, "v": 19.2},
      {"s": "i13", "k": "plain", "t": 184.570, "v": 22.3},
      {"s": "i13", "k": "plain", "t": 184.587, "v": 20.3},
      {"s": "i13", "k": "plain", "t": 184.620, "v": 17.2},
      {"s": "i13", "k": "plain", "t": 184.637, "v": 15.1},
      {"s": "i13", "k": "plain", "t": 184.670, "v": 13.1},
      {"s": "i13", "k": "plain", "t": 184.720, "v": 14.1},
      {"s": "i13", "k": "plain", "t": 184.770, "v": 15.1},
      {"s": "i13", "k": "plain", "t": 184.820, "v": 17.2},
      {"s": "i13", "k": "plain", "t": 184.853, "v": 19.2},
      {"s": "i13", "k": "plain", "t": 184.869, "v": 18.2},
      {"s": "i13", "k": "plain", "t": 184.903, "v": 15.1},
      {"s": "i13", "k": "plain", "t": 184.936, "v": 12.0},
      {"s": "i13", "k": "plain", "t": 184.952, "v": 11.4},
      {"s": "i13", "k": "plain", "t": 184.969, "v": 21.3},
      {"s": "i14", "k": "nucleus", "t": 184.969, "v": 21.3},
      {"s": "i14", "k": "nucleus", "t": 185.002, "v": 20.3},
      {"s": "i14", "k": "nucleus", "t": 185.035, "v": 21.7},
      {"s": "i14", "k": "nucleus", "t": 185.069, "v": 21.3},
      {"s": "i14", "k": "nucleus", "t": 185.102, "v": 18.2},
      {"s": "i14", "k": "nucleus", "t": 185.119, "v": 17.2},
      {"s": "i14", "k": "nucleus", "t": 185.135, "v": 24.3},
      {"s": "i15", "k": "plain", "t": 185.135, "v": 24.3},
      {"s": "i15", "k": "plain", "t": 185.152, "v": 19.2},
      {"s": "i15", "k": "plain", "t": 185.185, "v": 17.2},
      {"s": "i15", "k": "plain", "t": 185.218, "v": 17.2},
      {"s": "i15", "k": "plain", "t": 185.252, "v": 17.6},
      {"s": "i15", "k": "plain", "t": 185.285, "v": 19.2},
      {"s": "i15", "k": "plain", "t": 185.318, "v": 17.2},
      {"s": "i15", "k": "plain", "t": 185.351, "v": 16.1},
      {"s": "i15", "k": "plain", "t": 185.401, "v": 15.1},
      {"s": "i15", "k": "plain", "t": 185.451, "v": 15.5},
      {"s": "i15", "k": "plain", "t": 185.501, "v": 15.1},
      {"s": "i15", "k": "plain", "t": 185.551, "v": 14.1},
      {"s": "i15", "k": "plain", "t": 185.617, "v": 12.6},
      {"s": "i15", "k": "plain", "t": 185.667, "v": 12.0},
      {"s": "i15", "k": "plain", "t": 185.717, "v": 11.4},
      {"s": "i15", "k": "plain", "t": 185.816, "v": 11.4},
      {"s": "i15", "k": "plain", "t": 185.916, "v": 11.4},
      {"s": "i15", "k": "plain", "t": 185.983, "v": 11.6},
      {"s": "i15", "k": "plain", "t": 186.032, "v": 12.0},
      {"s": "i15", "k": "plain", "t": 186.082, "v": 14.1},
      {"s": "i15", "k": "plain", "t": 186.132, "v": 15.5},
      {"s": "i15", "k": "plain", "t": 186.165, "v": 16.1},
      {"s": "i15", "k": "plain", "t": 186.182, "v": 17.6},
      {"s": "i16", "k": "nucleus", "t": 186.182, "v": 17.6},
      {"s": "i16", "k": "nucleus", "t": 186.215, "v": 18.2},
      {"s": "i16", "k": "nucleus", "t": 186.248, "v": 19.2},
      {"s": "i16", "k": "nucleus", "t": 186.282, "v": 18.2},
      {"s": "i16", "k": "nucleus", "t": 186.315, "v": 16.1},
      {"s": "i16", "k": "nucleus", "t": 186.348, "v": 13.1},
      {"s": "i16", "k": "nucleus", "t": 186.381, "v": 11.4},
      {"s": "i17", "k": "plain", "t": 186.381, "v": 11.4},
      {"s": "i17", "k": "plain", "t": 186.414, "v": 12.0},
      {"s": "i17", "k": "plain", "t": 186.441, "v": 14.1},
      {"s": "i17", "k": "plain", "t": 186.474, "v": 13.1},
      {"s": "i17", "k": "plain", "t": 186.514, "v": 12.0},
      {"s": "i17", "k": "plain", "t": 186.581, "v": 11.4},
      {"s": "i17", "k": "plain", "t": 186.647, "v": 11.0},
      {"s": "i17", "k": "plain", "t": 186.710, "v": 12.0}
    ],
    "wave": [
      {"s": "w1", "k": "other", "t": 174.784, "hi": 30.3, "lo": 29.7},
      {"s": "w1", "k": "other", "t": 174.800, "hi": 32.5, "lo": 27.5},
      {"s": "w1", "k": "other", "t": 174.833, "hi": 33.3, "lo": 26.7},
      {"s": "w1", "k": "other", "t": 174.883, "hi": 33.5, "lo": 26.5},
      {"s": "w1", "k": "other", "t": 174.933, "hi": 33.3, "lo": 26.7},
      {"s": "w1", "k": "other", "t": 174.983, "hi": 32.8, "lo": 27.2},
      {"s": "w1", "k": "other", "t": 175.016, "hi": 31.5, "lo": 28.5},
      {"s": "w1", "k": "other", "t": 175.049, "hi": 30.8, "lo": 29.2},
      {"s": "w1", "k": "other", "t": 175.058, "hi": 30.3, "lo": 29.7},
      {"s": "w2", "k": "other", "t": 175.061, "hi": 33.5, "lo": 26.5},
      {"s": "w2", "k": "other", "t": 175.068, "hi": 33.5, "lo": 26.5},
      {"s": "w3", "k": "nucleus", "t": 175.068, "hi": 33.5, "lo": 26.5},
      {"s": "w3", "k": "nucleus", "t": 175.116, "hi": 33.0, "lo": 27.0},
      {"s": "w3", "k": "nucleus", "t": 175.216, "hi": 33.2, "lo": 26.8},
      {"s": "w3", "k": "nucleus", "t": 175.315, "hi": 33.3, "lo": 26.7},
      {"s": "w3", "k": "nucleus", "t": 175.448, "hi": 33.0, "lo": 27.0},
      {"s": "w3", "k": "nucleus", "t": 175.581, "hi": 32.8, "lo": 27.2},
      {"s": "w3", "k": "nucleus", "t": 175.681, "hi": 32.6, "lo": 27.4},
      {"s": "w3", "k": "nucleus", "t": 175.714, "hi": 32.5, "lo": 27.5},
      {"s": "w4", "k": "other", "t": 175.714, "hi": 32.5, "lo": 27.5},
      {"s": "w4", "k": "other", "t": 175.730, "hi": 32.8, "lo": 27.2},
      {"s": "w4", "k": "other", "t": 175.747, "hi": 31.5, "lo": 28.5},
      {"s": "w4", "k": "other", "t": 175.781, "hi": 30.8, "lo": 29.2},
      {"s": "w4", "k": "other", "t": 175.847, "hi": 30.6, "lo": 29.4},
      {"s": "w4", "k": "other", "t": 175.914, "hi": 30.8, "lo": 29.2},
      {"s": "w4", "k": "other", "t": 175.980, "hi": 30.6, "lo": 29.4},
      {"s": "w4", "k": "other", "t": 176.046, "hi": 30.3, "lo": 29.7},
      {"s": "w5", "k": "other", "t": 176.196, "hi": 30.3, "lo": 29.7},
      {"s": "w5", "k": "other", "t": 176.210, "hi": 30.9, "lo": 29.1},
      {"s": "w5", "k": "other", "t": 176.246, "hi": 30.8, "lo": 29.2},
      {"s": "w5", "k": "other", "t": 176.295, "hi": 31.0, "lo": 29.0},
      {"s": "w5", "k": "other", "t": 176.345, "hi": 31.0, "lo": 29.0},
      {"s": "w5", "k": "other", "t": 176.412, "hi": 31.0, "lo": 29.0},
      {"s": "w5", "k": "other", "t": 176.445, "hi": 30.3, "lo": 29.7},
      {"s": "w6", "k": "other", "t": 176.512, "hi": 30.3, "lo": 29.7},
      {"s": "w6", "k": "other", "t": 176.530, "hi": 30.8, "lo": 29.2},
      {"s": "w6", "k": "other", "t": 176.644, "hi": 30.8, "lo": 29.2},
      {"s": "w6", "k": "other", "t": 176.778, "hi": 30.8, "lo": 29.2},
      {"s": "w6", "k": "other", "t": 176.877, "hi": 30.8, "lo": 29.2},
      {"s": "w6", "k": "other", "t": 176.977, "hi": 30.8, "lo": 29.2},
      {"s": "w6", "k": "other", "t": 176.990, "hi": 30.3, "lo": 29.7},
      {"s": "w7", "k": "other", "t": 177.050, "hi": 30.2, "lo": 29.8},
      {"s": "w7", "k": "other", "t": 177.209, "hi": 30.3, "lo": 29.7},
      {"s": "w7", "k": "other", "t": 177.220, "hi": 31.0, "lo": 29.0},
      {"s": "w7", "k": "other", "t": 177.259, "hi": 31.2, "lo": 28.8},
      {"s": "w7", "k": "other", "t": 177.292, "hi": 30.8, "lo": 29.2},
      {"s": "w8", "k": "nucleus", "t": 177.292, "hi": 30.8, "lo": 29.2},
      {"s": "w8", "k": "nucleus", "t": 177.309, "hi": 31.0, "lo": 29.0},
      {"s": "w8", "k": "nucleus", "t": 177.359, "hi": 31.4, "lo": 28.6},
      {"s": "w8", "k": "nucleus", "t": 177.425, "hi": 31.3, "lo": 28.7},
      {"s": "w8", "k": "nucleus", "t": 177.492, "hi": 30.6, "lo": 29.4},
      {"s": "w9", "k": "other", "t": 177.580, "hi": 30.3, "lo": 29.7},
      {"s": "w9", "k": "other", "t": 177.592, "hi": 31.0, "lo": 29.0},
      {"s": "w9", "k": "other", "t": 177.625, "hi": 30.6, "lo": 29.4},
      {"s": "w9", "k": "other", "t": 177.640, "hi": 30.3, "lo": 29.7},
      {"s": "w10", "k": "other", "t": 177.760, "hi": 30.2, "lo": 29.8},
      {"s": "w10", "k": "other", "t": 177.775, "hi": 30.3, "lo": 29.7},
      {"s": "w10", "k": "other", "t": 177.941, "hi": 30.4, "lo": 29.6},
      {"s": "w10", "k": "other", "t": 177.990, "hi": 30.4, "lo": 29.6},
      {"s": "w11", "k": "nucleus", "t": 178.000, "hi": 30.5, "lo": 29.5},
      {"s": "w11", "k": "nucleus", "t": 178.007, "hi": 30.8, "lo": 29.2},
      {"s": "w11", "k": "nucleus", "t": 178.107, "hi": 30.8, "lo": 29.2},
      {"s": "w11", "k": "nucleus", "t": 178.257, "hi": 30.7, "lo": 29.3},
      {"s": "w11", "k": "nucleus", "t": 178.280, "hi": 30.5, "lo": 29.5},
      {"s": "w12", "k": "other", "t": 178.290, "hi": 30.8, "lo": 29.2},
      {"s": "w12", "k": "other", "t": 178.323, "hi": 30.8, "lo": 29.2},
      {"s": "w13", "k": "other", "t": 178.389, "hi": 30.6, "lo": 29.4},
      {"s": "w13", "k": "other", "t": 178.420, "hi": 31.6, "lo": 28.4},
      {"s": "w13", "k": "other", "t": 178.460, "hi": 31.4, "lo": 28.6},
      {"s": "w13", "k": "other", "t": 178.489, "hi": 30.6, "lo": 29.4},
      {"s": "w14", "k": "other", "t": 178.506, "hi": 30.4, "lo": 29.6},
      {"s": "w14", "k": "other", "t": 178.539, "hi": 30.4, "lo": 29.6},
      {"s": "w15", "k": "other", "t": 178.672, "hi": 30.3, "lo": 29.7},
      {"s": "w15", "k": "other", "t": 178.690, "hi": 30.8, "lo": 29.2},
      {"s": "w15", "k": "other", "t": 178.750, "hi": 30.8, "lo": 29.2},
      {"s": "w15", "k": "other", "t": 178.772, "hi": 30.3, "lo": 29.7},
      {"s": "w16", "k": "other", "t": 178.788, "hi": 30.4, "lo": 29.6},
      {"s": "w16", "k": "other", "t": 178.821, "hi": 30.4, "lo": 29.6},
      {"s": "w17", "k": "other", "t": 178.888, "hi": 30.3, "lo": 29.7},
      {"s": "w17", "k": "other", "t": 178.920, "hi": 31.0, "lo": 29.0},
      {"s": "w17", "k": "other", "t": 178.954, "hi": 30.4, "lo": 29.6},
      {"s": "w18", "k": "nucleus", "t": 179.054, "hi": 30.4, "lo": 29.6},
      {"s": "w18", "k": "nucleus", "t": 179.100, "hi": 31.8, "lo": 28.2},
      {"s": "w18", "k": "nucleus", "t": 179.237, "hi": 32.0, "lo": 28.0},
      {"s": "w18", "k": "nucleus", "t": 179.380, "hi": 31.8, "lo": 28.2},
      {"s": "w18", "k": "nucleus", "t": 179.420, "hi": 30.8, "lo": 29.2},
      {"s": "w19", "k": "other", "t": 179.420, "hi": 31.2, "lo": 28.8},
      {"s": "w19", "k": "other", "t": 179.500, "hi": 31.4, "lo": 28.6},
      {"s": "w19", "k": "other", "t": 179.600, "hi": 31.3, "lo": 28.7},
      {"s": "w19", "k": "other", "t": 179.769, "hi": 31.4, "lo": 28.6},
      {"s": "w19", "k": "other", "t": 179.950, "hi": 31.2, "lo": 28.8},
      {"s": "w19", "k": "other", "t": 180.101, "hi": 30.5, "lo": 29.5},
      {"s": "w20", "k": "other", "t": 180.549, "hi": 30.4, "lo": 29.6},
      {"s": "w20", "k": "other", "t": 180.570, "hi": 31.4, "lo": 28.6},
      {"s": "w20", "k": "other", "t": 180.630, "hi": 31.3, "lo": 28.7},
      {"s": "w20", "k": "other", "t": 180.649, "hi": 30.4, "lo": 29.6},
      {"s": "w21", "k": "other", "t": 180.699, "hi": 30.4, "lo": 29.6},
      {"s": "w21", "k": "other", "t": 180.732, "hi": 30.4, "lo": 29.6},
      {"s": "w22", "k": "other", "t": 180.765, "hi": 30.4, "lo": 29.6},
      {"s": "w22", "k": "other", "t": 180.800, "hi": 31.2, "lo": 28.8},
      {"s": "w22", "k": "other", "t": 180.900, "hi": 31.1, "lo": 28.9},
      {"s": "w22", "k": "other", "t": 180.965, "hi": 30.4, "lo": 29.6},
      {"s": "w23", "k": "other", "t": 181.015, "hi": 30.4, "lo": 29.6},
      {"s": "w23", "k": "other", "t": 181.040, "hi": 31.2, "lo": 28.8},
      {"s": "w23", "k": "other", "t": 181.090, "hi": 31.1, "lo": 28.9},
      {"s": "w23", "k": "other", "t": 181.114, "hi": 30.4, "lo": 29.6},
      {"s": "w24", "k": "other", "t": 181.131, "hi": 30.3, "lo": 29.7},
      {"s": "w24", "k": "other", "t": 181.200, "hi": 30.6, "lo": 29.4},
      {"s": "w24", "k": "other", "t": 181.300, "hi": 30.5, "lo": 29.5},
      {"s": "w24", "k": "other", "t": 181.397, "hi": 30.3, "lo": 29.7},
      {"s": "w25", "k": "nucleus", "t": 181.397, "hi": 30.5, "lo": 29.5},
      {"s": "w25", "k": "nucleus", "t": 181.450, "hi": 31.6, "lo": 28.4},
      {"s": "w25", "k": "nucleus", "t": 181.563, "hi": 31.8, "lo": 28.2},
      {"s": "w25", "k": "nucleus", "t": 181.680, "hi": 31.4, "lo": 28.6},
      {"s": "w25", "k": "nucleus", "t": 181.729, "hi": 30.6, "lo": 29.4},
      {"s": "w26", "k": "other", "t": 181.729, "hi": 31.0, "lo": 29.0},
      {"s": "w26", "k": "other", "t": 181.800, "hi": 31.2, "lo": 28.8},
      {"s": "w26", "k": "other", "t": 181.900, "hi": 31.1, "lo": 28.9},
      {"s": "w26", "k": "other", "t": 181.995, "hi": 30.5, "lo": 29.5},
      {"s": "w27", "k": "other", "t": 182.045, "hi": 30.3, "lo": 29.7},
      {"s": "w27", "k": "other", "t": 182.080, "hi": 30.8, "lo": 29.2},
      {"s": "w27", "k": "other", "t": 182.128, "hi": 30.3, "lo": 29.7},
      {"s": "w28", "k": "other", "t": 182.228, "hi": 30.3, "lo": 29.7},
      {"s": "w28", "k": "other", "t": 182.261, "hi": 30.3, "lo": 29.7},
      {"s": "w29", "k": "other", "t": 182.327, "hi": 30.3, "lo": 29.7},
      {"s": "w29", "k": "other", "t": 182.360, "hi": 30.6, "lo": 29.4},
      {"s": "w29", "k": "other", "t": 182.394, "hi": 30.8, "lo": 29.2},
      {"s": "w29", "k": "other", "t": 182.420, "hi": 31.6, "lo": 28.4},
      {"s": "w29", "k": "other", "t": 182.444, "hi": 31.0, "lo": 29.0},
      {"s": "w29", "k": "other", "t": 182.550, "hi": 31.2, "lo": 28.8},
      {"s": "w29", "k": "other", "t": 182.660, "hi": 30.8, "lo": 29.2},
      {"s": "w29", "k": "other", "t": 182.700, "hi": 30.8, "lo": 29.2},
      {"s": "w29", "k": "other", "t": 182.726, "hi": 30.3, "lo": 29.7},
      {"s": "w30", "k": "other", "t": 182.792, "hi": 30.3, "lo": 29.7},
      {"s": "w30", "k": "other", "t": 182.842, "hi": 30.4, "lo": 29.6},
      {"s": "w31", "k": "other", "t": 182.925, "hi": 30.6, "lo": 29.4},
      {"s": "w31", "k": "other", "t": 182.960, "hi": 31.2, "lo": 28.8},
      {"s": "w31", "k": "other", "t": 183.040, "hi": 31.1, "lo": 28.9},
      {"s": "w31", "k": "other", "t": 183.075, "hi": 30.4, "lo": 29.6},
      {"s": "w32", "k": "other", "t": 183.125, "hi": 30.3, "lo": 29.7},
      {"s": "w32", "k": "other", "t": 183.150, "hi": 30.8, "lo": 29.2},
      {"s": "w32", "k": "other", "t": 183.175, "hi": 30.3, "lo": 29.7},
      {"s": "w33", "k": "other", "t": 183.241, "hi": 30.8, "lo": 29.2},
      {"s": "w33", "k": "other", "t": 183.290, "hi": 32.9, "lo": 27.1},
      {"s": "w33", "k": "other", "t": 183.330, "hi": 32.0, "lo": 28.0},
      {"s": "w33", "k": "other", "t": 183.391, "hi": 30.6, "lo": 29.4},
      {"s": "w34", "k": "other", "t": 183.440, "hi": 30.6, "lo": 29.4},
      {"s": "w34", "k": "other", "t": 183.480, "hi": 31.4, "lo": 28.6},
      {"s": "w34", "k": "other", "t": 183.560, "hi": 31.2, "lo": 28.8},
      {"s": "w34", "k": "other", "t": 183.607, "hi": 30.4, "lo": 29.6},
      {"s": "w35", "k": "other", "t": 183.656, "hi": 30.8, "lo": 29.2},
      {"s": "w35", "k": "other", "t": 183.700, "hi": 31.8, "lo": 28.2},
      {"s": "w35", "k": "other", "t": 183.770, "hi": 31.6, "lo": 28.4},
      {"s": "w35", "k": "other", "t": 183.806, "hi": 30.6, "lo": 29.4},
      {"s": "w36", "k": "other", "t": 183.825, "hi": 32.0, "lo": 28.0},
      {"s": "w36", "k": "other", "t": 183.835, "hi": 32.0, "lo": 28.0},
      {"s": "w37", "k": "nucleus", "t": 183.839, "hi": 31.5, "lo": 28.5},
      {"s": "w37", "k": "nucleus", "t": 183.880, "hi": 31.8, "lo": 28.2},
      {"s": "w37", "k": "nucleus", "t": 183.960, "hi": 31.6, "lo": 28.4},
      {"s": "w37", "k": "nucleus", "t": 183.989, "hi": 31.0, "lo": 29.0},
      {"s": "w38", "k": "other", "t": 183.989, "hi": 30.8, "lo": 29.2},
      {"s": "w38", "k": "other", "t": 184.039, "hi": 31.0, "lo": 29.0},
      {"s": "w38", "k": "other", "t": 184.055, "hi": 30.6, "lo": 29.4},
      {"s": "w38", "k": "other", "t": 184.105, "hi": 30.6, "lo": 29.4},
      {"s": "w39", "k": "other", "t": 184.172, "hi": 30.6, "lo": 29.4},
      {"s": "w39", "k": "other", "t": 184.200, "hi": 31.4, "lo": 28.6},
      {"s": "w39", "k": "other", "t": 184.300, "hi": 31.3, "lo": 28.7},
      {"s": "w39", "k": "other", "t": 184.421, "hi": 30.4, "lo": 29.6},
      {"s": "w40", "k": "other", "t": 184.454, "hi": 30.3, "lo": 29.7},
      {"s": "w40", "k": "other", "t": 184.487, "hi": 30.6, "lo": 29.4},
      {"s": "w41", "k": "other", "t": 184.537, "hi": 30.6, "lo": 29.4},
      {"s": "w41", "k": "other", "t": 184.570, "hi": 32.7, "lo": 27.3},
      {"s": "w41", "k": "other", "t": 184.604, "hi": 32.2, "lo": 27.8},
      {"s": "w41", "k": "other", "t": 184.670, "hi": 30.5, "lo": 29.5},
      {"s": "w42", "k": "other", "t": 184.753, "hi": 30.4, "lo": 29.6},
      {"s": "w42", "k": "other", "t": 184.800, "hi": 30.8, "lo": 29.2},
      {"s": "w42", "k": "other", "t": 184.900, "hi": 30.7, "lo": 29.3},
      {"s": "w42", "k": "other", "t": 184.952, "hi": 30.3, "lo": 29.7},
      {"s": "w43", "k": "nucleus", "t": 184.986, "hi": 30.6, "lo": 29.4},
      {"s": "w43", "k": "nucleus", "t": 185.020, "hi": 31.4, "lo": 28.6},
      {"s": "w43", "k": "nucleus", "t": 185.100, "hi": 31.3, "lo": 28.7},
      {"s": "w43", "k": "nucleus", "t": 185.135, "hi": 30.6, "lo": 29.4},
      {"s": "w44", "k": "other", "t": 185.135, "hi": 31.0, "lo": 29.0},
      {"s": "w44", "k": "other", "t": 185.170, "hi": 31.6, "lo": 28.4},
      {"s": "w44", "k": "other", "t": 185.300, "hi": 31.4, "lo": 28.6},
      {"s": "w44", "k": "other", "t": 185.401, "hi": 30.6, "lo": 29.4},
      {"s": "w45", "k": "other", "t": 185.401, "hi": 30.5, "lo": 29.5},
      {"s": "w45", "k": "other", "t": 185.500, "hi": 30.6, "lo": 29.4},
      {"s": "w45", "k": "other", "t": 185.600, "hi": 30.3, "lo": 29.7},
      {"s": "w46", "k": "other", "t": 186.082, "hi": 30.4, "lo": 29.6},
      {"s": "w46", "k": "other", "t": 186.150, "hi": 31.0, "lo": 29.0},
      {"s": "w46", "k": "other", "t": 186.200, "hi": 30.8, "lo": 29.2},
      {"s": "w46", "k": "other", "t": 186.248, "hi": 31.2, "lo": 28.8},
      {"s": "w47", "k": "nucleus", "t": 186.248, "hi": 31.0, "lo": 29.0},
      {"s": "w47", "k": "nucleus", "t": 186.300, "hi": 31.0, "lo": 29.0},
      {"s": "w47", "k": "nucleus", "t": 186.348, "hi": 30.6, "lo": 29.4},
      {"s": "w48", "k": "other", "t": 186.448, "hi": 30.3, "lo": 29.7},
      {"s": "w48", "k": "other", "t": 186.481, "hi": 30.3, "lo": 29.7}
    ]
  },
  "vconcat": [
    {
      "width": 1231,
      "height": 411,
      "view": {"fill": "#ffffff", "stroke": null},
      "resolve": {"scale": {"color": "independent"}},
      "encoding": {
        "x": {
          "field": "t", "type": "quantitative",
          "scale": {"domain": [174.438, 186.711], "nice": false, "zero": false},
          "axis": {"values": [176, 178, 180, 182, 184, 186], "labels": false, "grid": true, "gridColor": "#c6c18a", "gridWidth": 2, "minExtent": 0, "maxExtent": 0}
        },
        "y": {
          "field": "f", "type": "quantitative",
          "scale": {"domain": [55.25, 397.75], "nice": false, "zero": false},
          "axis": {
            "values": [67.75, 100, 150, 200, 250, 300, 350],
            "labelExpr": "datum.value < 70 ? '50' : datum.label",
            "grid": true, "labelPadding": 3, "labelOffset": -3, "minExtent": 32, "maxExtent": 32
          }
        }
      },
      "layer": [
        {
          "data": {"name": "pitch"},
          "mark": {"type": "line", "clip": true, "strokeJoin": "round", "strokeCap": "round"},
          "encoding": {
            "detail": {"field": "s", "type": "nominal"},
            "color": {
              "field": "k", "type": "nominal", "legend": null,
              "scale": {"domain": ["neutral", "descent", "rise", "fall", "final"], "range": ["#000000", "#1212e6", "#1ce4ee", "#f01212", "#f01ee6"]}
            },
            "strokeWidth": {
              "field": "k", "type": "nominal", "legend": null,
              "scale": {"domain": ["neutral", "descent", "rise", "fall", "final"], "range": [1.4, 2.8, 2.8, 2.8, 2.8]}
            }
          }
        },
        {
          "data": {"name": "words"},
          "mark": {"type": "text", "font": "Liberation Sans", "fontSize": 17, "color": "#1c1cf0", "align": "center", "baseline": "middle"},
          "encoding": {"text": {"field": "w", "type": "nominal"}}
        }
      ]
    },
    {
      "width": 1231,
      "height": 64,
      "view": {"fill": "#fdfb9c", "stroke": null},
      "resolve": {"scale": {"color": "independent"}},
      "encoding": {
        "x": {
          "field": "t", "type": "quantitative",
          "scale": {"domain": [174.438, 186.711], "nice": false, "zero": false},
          "axis": {"values": [176, 178, 180, 182, 184, 186], "format": "d", "grid": true, "gridColor": "#a9a462", "gridWidth": 2, "labelPadding": -1, "labelFontSize": 15, "labelBaseline": "top"}
        }
      },
      "layer": [
        {
          "data": {"name": "wave"},
          "mark": {"type": "area", "clip": true},
          "encoding": {
            "y": {
              "field": "hi", "type": "quantitative",
              "scale": {"domain": [0, 40], "nice": false, "zero": false},
              "axis": {"values": [0, 10, 20, 30, 40], "grid": true, "labelPadding": 3, "labelOffset": -4, "minExtent": 32, "maxExtent": 32}
            },
            "y2": {"field": "lo"},
            "detail": {"field": "s", "type": "nominal"},
            "color": {
              "field": "k", "type": "nominal", "legend": null,
              "scale": {"domain": ["other", "nucleus"], "range": ["#0c0ce8", "#86ee48"]}
            }
          }
        },
        {
          "data": {"name": "inten"},
          "mark": {"type": "line", "clip": true, "strokeWidth": 1.6},
          "encoding": {
            "y": {
              "field": "v", "type": "quantitative",
              "scale": {"domain": [0, 40], "nice": false, "zero": false},
              "axis": {"values": [0, 10, 20, 30, 40], "grid": true, "labelPadding": 3, "labelOffset": -4, "minExtent": 32, "maxExtent": 32}
            },
            "detail": {"field": "s", "type": "nominal"},
            "color": {
              "field": "k", "type": "nominal", "legend": null,
              "scale": {"domain": ["plain", "nucleus"], "range": ["#ff12f4", "#1c90e4"]}
            }
          }
        }
      ]
    }
  ]
}
